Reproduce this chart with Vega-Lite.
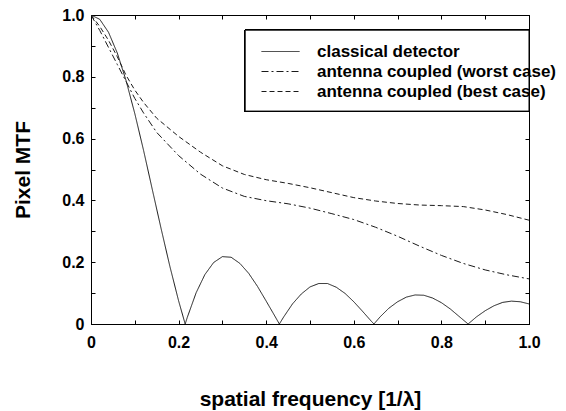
{
  "$schema": "https://vega.github.io/schema/vega-lite/v6.json",
  "width": 438,
  "height": 309,
  "autosize": "none",
  "padding": {"left": 91, "top": 15, "right": 37, "bottom": 87},
  "background": "white",
  "config": {
    "font": "Liberation Sans",
    "view": {"stroke": "black", "strokeWidth": 1},
    "axis": {"domainColor": "black", "tickColor": "black", "grid": false, "labelFont": "Liberation Sans", "labelFontWeight": "bold", "labelFontSize": 16, "labelColor": "black", "titleFont": "Liberation Sans", "titleFontWeight": "bold", "titleFontSize": 21, "titleColor": "black", "tickSize": -4, "domainWidth": 1}
  },
  "data": {"values": [
    {"f": 0, "mtf": 1, "series": "classical detector"},
    {"f": 0.02, "mtf": 0.986, "series": "classical detector"},
    {"f": 0.04, "mtf": 0.944, "series": "classical detector"},
    {"f": 0.06, "mtf": 0.877, "series": "classical detector"},
    {"f": 0.08, "mtf": 0.788, "series": "classical detector"},
    {"f": 0.10, "mtf": 0.681, "series": "classical detector"},
    {"f": 0.12, "mtf": 0.562, "series": "classical detector"},
    {"f": 0.14, "mtf": 0.435, "series": "classical detector"},
    {"f": 0.16, "mtf": 0.309, "series": "classical detector"},
    {"f": 0.18, "mtf": 0.187, "series": "classical detector"},
    {"f": 0.20, "mtf": 0.075, "series": "classical detector"},
    {"f": 0.215, "mtf": 0.0, "series": "classical detector"},
    {"f": 0.22, "mtf": 0.022, "series": "classical detector"},
    {"f": 0.24, "mtf": 0.101, "series": "classical detector"},
    {"f": 0.26, "mtf": 0.160, "series": "classical detector"},
    {"f": 0.28, "mtf": 0.199, "series": "classical detector"},
    {"f": 0.30, "mtf": 0.218, "series": "classical detector"},
    {"f": 0.32, "mtf": 0.216, "series": "classical detector"},
    {"f": 0.34, "mtf": 0.196, "series": "classical detector"},
    {"f": 0.36, "mtf": 0.164, "series": "classical detector"},
    {"f": 0.38, "mtf": 0.122, "series": "classical detector"},
    {"f": 0.40, "mtf": 0.074, "series": "classical detector"},
    {"f": 0.42, "mtf": 0.025, "series": "classical detector"},
    {"f": 0.43, "mtf": 0.0, "series": "classical detector"},
    {"f": 0.44, "mtf": 0.023, "series": "classical detector"},
    {"f": 0.46, "mtf": 0.065, "series": "classical detector"},
    {"f": 0.48, "mtf": 0.097, "series": "classical detector"},
    {"f": 0.50, "mtf": 0.120, "series": "classical detector"},
    {"f": 0.52, "mtf": 0.131, "series": "classical detector"},
    {"f": 0.54, "mtf": 0.131, "series": "classical detector"},
    {"f": 0.56, "mtf": 0.119, "series": "classical detector"},
    {"f": 0.58, "mtf": 0.099, "series": "classical detector"},
    {"f": 0.60, "mtf": 0.072, "series": "classical detector"},
    {"f": 0.62, "mtf": 0.041, "series": "classical detector"},
    {"f": 0.64, "mtf": 0.009, "series": "classical detector"},
    {"f": 0.646, "mtf": 0.0, "series": "classical detector"},
    {"f": 0.66, "mtf": 0.023, "series": "classical detector"},
    {"f": 0.68, "mtf": 0.051, "series": "classical detector"},
    {"f": 0.70, "mtf": 0.072, "series": "classical detector"},
    {"f": 0.72, "mtf": 0.087, "series": "classical detector"},
    {"f": 0.74, "mtf": 0.094, "series": "classical detector"},
    {"f": 0.76, "mtf": 0.093, "series": "classical detector"},
    {"f": 0.78, "mtf": 0.084, "series": "classical detector"},
    {"f": 0.80, "mtf": 0.069, "series": "classical detector"},
    {"f": 0.82, "mtf": 0.049, "series": "classical detector"},
    {"f": 0.84, "mtf": 0.025, "series": "classical detector"},
    {"f": 0.861, "mtf": 0.0, "series": "classical detector"},
    {"f": 0.88, "mtf": 0.023, "series": "classical detector"},
    {"f": 0.90, "mtf": 0.043, "series": "classical detector"},
    {"f": 0.92, "mtf": 0.059, "series": "classical detector"},
    {"f": 0.94, "mtf": 0.070, "series": "classical detector"},
    {"f": 0.96, "mtf": 0.074, "series": "classical detector"},
    {"f": 0.98, "mtf": 0.072, "series": "classical detector"},
    {"f": 1.00, "mtf": 0.065, "series": "classical detector"},
    {"f": 0, "mtf": 1, "series": "antenna coupled (worst case)"},
    {"f": 0.02, "mtf": 0.95, "series": "antenna coupled (worst case)"},
    {"f": 0.04, "mtf": 0.895, "series": "antenna coupled (worst case)"},
    {"f": 0.06, "mtf": 0.84, "series": "antenna coupled (worst case)"},
    {"f": 0.08, "mtf": 0.785, "series": "antenna coupled (worst case)"},
    {"f": 0.10, "mtf": 0.73, "series": "antenna coupled (worst case)"},
    {"f": 0.12, "mtf": 0.683, "series": "antenna coupled (worst case)"},
    {"f": 0.15, "mtf": 0.62, "series": "antenna coupled (worst case)"},
    {"f": 0.20, "mtf": 0.545, "series": "antenna coupled (worst case)"},
    {"f": 0.25, "mtf": 0.485, "series": "antenna coupled (worst case)"},
    {"f": 0.30, "mtf": 0.44, "series": "antenna coupled (worst case)"},
    {"f": 0.35, "mtf": 0.413, "series": "antenna coupled (worst case)"},
    {"f": 0.40, "mtf": 0.399, "series": "antenna coupled (worst case)"},
    {"f": 0.45, "mtf": 0.389, "series": "antenna coupled (worst case)"},
    {"f": 0.50, "mtf": 0.375, "series": "antenna coupled (worst case)"},
    {"f": 0.55, "mtf": 0.357, "series": "antenna coupled (worst case)"},
    {"f": 0.60, "mtf": 0.338, "series": "antenna coupled (worst case)"},
    {"f": 0.65, "mtf": 0.313, "series": "antenna coupled (worst case)"},
    {"f": 0.70, "mtf": 0.284, "series": "antenna coupled (worst case)"},
    {"f": 0.75, "mtf": 0.252, "series": "antenna coupled (worst case)"},
    {"f": 0.80, "mtf": 0.222, "series": "antenna coupled (worst case)"},
    {"f": 0.85, "mtf": 0.196, "series": "antenna coupled (worst case)"},
    {"f": 0.90, "mtf": 0.175, "series": "antenna coupled (worst case)"},
    {"f": 0.95, "mtf": 0.159, "series": "antenna coupled (worst case)"},
    {"f": 1.00, "mtf": 0.146, "series": "antenna coupled (worst case)"},
    {"f": 0, "mtf": 1, "series": "antenna coupled (best case)"},
    {"f": 0.02, "mtf": 0.963, "series": "antenna coupled (best case)"},
    {"f": 0.04, "mtf": 0.918, "series": "antenna coupled (best case)"},
    {"f": 0.06, "mtf": 0.865, "series": "antenna coupled (best case)"},
    {"f": 0.08, "mtf": 0.805, "series": "antenna coupled (best case)"},
    {"f": 0.10, "mtf": 0.757, "series": "antenna coupled (best case)"},
    {"f": 0.12, "mtf": 0.717, "series": "antenna coupled (best case)"},
    {"f": 0.15, "mtf": 0.666, "series": "antenna coupled (best case)"},
    {"f": 0.20, "mtf": 0.607, "series": "antenna coupled (best case)"},
    {"f": 0.25, "mtf": 0.556, "series": "antenna coupled (best case)"},
    {"f": 0.30, "mtf": 0.512, "series": "antenna coupled (best case)"},
    {"f": 0.35, "mtf": 0.484, "series": "antenna coupled (best case)"},
    {"f": 0.40, "mtf": 0.467, "series": "antenna coupled (best case)"},
    {"f": 0.45, "mtf": 0.455, "series": "antenna coupled (best case)"},
    {"f": 0.50, "mtf": 0.441, "series": "antenna coupled (best case)"},
    {"f": 0.55, "mtf": 0.425, "series": "antenna coupled (best case)"},
    {"f": 0.60, "mtf": 0.409, "series": "antenna coupled (best case)"},
    {"f": 0.65, "mtf": 0.398, "series": "antenna coupled (best case)"},
    {"f": 0.70, "mtf": 0.39, "series": "antenna coupled (best case)"},
    {"f": 0.75, "mtf": 0.385, "series": "antenna coupled (best case)"},
    {"f": 0.80, "mtf": 0.383, "series": "antenna coupled (best case)"},
    {"f": 0.85, "mtf": 0.38, "series": "antenna coupled (best case)"},
    {"f": 0.90, "mtf": 0.369, "series": "antenna coupled (best case)"},
    {"f": 0.95, "mtf": 0.354, "series": "antenna coupled (best case)"},
    {"f": 1.00, "mtf": 0.336, "series": "antenna coupled (best case)"}
  ]},
  "layer": [
    {
      "mark": {"type": "rect", "fill": "white", "stroke": "black", "strokeWidth": 1},
      "encoding": {
        "x": {"datum": 0.352, "type": "quantitative", "axis": null},
        "x2": {"datum": 1.0},
        "y": {"datum": 0.951, "type": "quantitative", "axis": null},
        "y2": {"datum": 0.689}
      }
    },
    {
      "mark": {"type": "line", "color": "#1a1a1a", "strokeWidth": 1, "clip": true},
      "encoding": {
        "x": {"field": "f", "type": "quantitative", "scale": {"domain": [0, 1], "nice": false},
          "axis": {"orient": "bottom", "title": "spatial frequency [1/λ]", "values": [0, 0.1, 0.2, 0.3, 0.4, 0.5, 0.6, 0.7, 0.8, 0.9, 1.0],
            "labelExpr": "round(datum.value*10) % 2 == 1 ? '' : (datum.value == 0 ? '0' : format(datum.value, '.1f'))",
            "labelPadding": 14, "titlePadding": 38, "labelFlush": false}},
        "y": {"field": "mtf", "type": "quantitative", "scale": {"domain": [0, 1], "nice": false},
          "axis": {"orient": "left", "title": "Pixel MTF", "values": [0, 0.1, 0.2, 0.3, 0.4, 0.5, 0.6, 0.7, 0.8, 0.9, 1.0],
            "labelExpr": "round(datum.value*10) % 2 == 1 ? '' : (datum.value == 0 ? '0' : format(datum.value, '.1f'))",
            "labelPadding": 11, "titlePadding": 28, "labelFlush": false}},
        "strokeDash": {"field": "series", "type": "nominal",
          "scale": {"domain": ["classical detector", "antenna coupled (worst case)", "antenna coupled (best case)"], "range": [[1, 0], [7, 3, 2, 3], [5, 3]]},
          "legend": {"orient": "none", "legendX": 157, "legendY": 28, "title": null, "strokeColor": null, "fillColor": null, "padding": 0,
            "symbolType": "M1,0H8.6", "symbolSize": 100, "symbolStrokeWidth": 1, "symbolStrokeColor": "#1a1a1a",
            "labelFont": "Liberation Sans", "labelFontSize": 17, "labelFontWeight": "bold", "labelColor": "black", "labelOffset": 52, "labelLimit": 400, "rowPadding": 2}}
      }
    },
    {
      "mark": {"type": "line", "opacity": 0},
      "encoding": {
        "x": {"field": "f", "type": "quantitative", "axis": {"orient": "top", "title": null, "labels": false, "values": [0, 0.1, 0.2, 0.3, 0.4, 0.5, 0.6, 0.7, 0.8, 0.9, 1.0]}},
        "y": {"field": "mtf", "type": "quantitative", "axis": {"orient": "right", "title": null, "labels": false, "values": [0, 0.1, 0.2, 0.3, 0.4, 0.5, 0.6, 0.7, 0.8, 0.9, 1.0]}},
        "detail": {"field": "series"}
      }
    }
  ],
  "resolve": {"axis": {"x": "independent", "y": "independent"}}
}
